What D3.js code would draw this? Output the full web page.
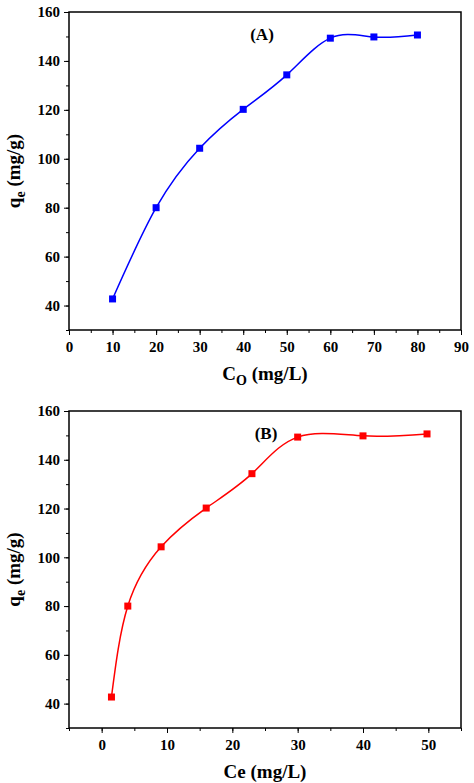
<!DOCTYPE html>
<html><head><meta charset="utf-8">
<script src="https://cdn.jsdelivr.net/npm/d3@7"></script>
<style>body{margin:0;background:#fff}svg{font-family:"Liberation Serif",serif;font-weight:bold}</style>
</head><body><div id="chart"></div>
<script>
// panel A: initial concentration vs uptake
const co = [10, 20, 30, 40, 50, 60, 70, 80];
const qeA = [42.7, 80, 104.3, 120.2, 134.3, 149.3, 149.8, 150.6];
// panel B: equilibrium concentration vs uptake
const ce = [1.5, 4, 9.1, 16, 23, 30, 40, 49.8];
const qeB = [42.7, 80, 104.3, 120.2, 134.3, 149.3, 149.8, 150.6];
const xTicksA = d3.range(0, 91, 10);
const xTicksB = d3.range(0, 51, 10);
const yTicks = d3.range(40, 161, 20);

const svg = d3.select('#chart').append('svg').attr('width', 474).attr('height', 783);

function styleTicks(a) {
    a.attr('font-family', null).attr('font-size', null);
    a.select('.domain').remove();
    a.selectAll('text').style('font-size', '15px').style('font-weight', 'bold')
        .style('font-family', '"Liberation Serif", serif').attr('fill', '#000');
}

function panel(o) {
    const x = d3.scaleLinear().domain(o.xdom).range([69, 461]);
    const y = d3.scaleLinear().domain([30, 160]).range([o.bottom, o.top]);
    const g = svg.append('g');

    g.append('rect').attr('x', 69).attr('y', o.top).attr('width', 392).attr('height', o.bottom - o.top)
        .attr('fill', 'none').attr('stroke', '#000').attr('stroke-width', 1.5);

    const xMinor = d3.range(o.xdom[0], o.xdom[1] + 0.1, 5);
    g.append('g').attr('transform', `translate(0,${o.bottom})`)
        .call(d3.axisBottom(x).tickValues(xMinor).tickSize(3).tickFormat(''))
        .call(styleTicks);
    g.append('g').attr('transform', `translate(0,${o.bottom})`)
        .call(d3.axisBottom(x).tickValues(o.xticks).tickSize(5).tickPadding(6).tickFormat(d3.format('d')))
        .call(styleTicks);

    g.append('g').attr('transform', 'translate(69,0)')
        .call(d3.axisLeft(y).tickValues(d3.range(30, 161, 10)).tickSize(3).tickFormat(''))
        .call(styleTicks);
    g.append('g').attr('transform', 'translate(69,0)')
        .call(d3.axisLeft(y).tickValues(yTicks).tickSize(5).tickPadding(4))
        .call(styleTicks);

    const pts = o.xs.map((v, i) => [x(v), y(o.ys[i])]);
    g.append('path').attr('d', d3.line().curve(d3.curveNatural)(pts))
        .attr('fill', 'none').attr('stroke', o.color).attr('stroke-width', 1.5);
    g.selectAll('.pt').data(pts).enter().append('rect')
        .attr('x', d => d[0] - 3.5).attr('y', d => d[1] - 3.5)
        .attr('width', 7).attr('height', 7).attr('fill', o.color);

    g.append('text').attr('x', o.labelX).attr('y', o.top + 28).attr('text-anchor', 'middle')
        .style('font-size', '17px').text(o.label);

    const xt = g.append('text').attr('x', 265).attr('y', o.bottom + 50).attr('text-anchor', 'middle')
        .style('font-size', '19px');
    o.xtitle(xt);

    const yt = g.append('text').attr('transform', `translate(20,${(o.top + o.bottom) / 2}) rotate(-90)`)
        .attr('text-anchor', 'middle').style('font-size', '19px');
    yt.append('tspan').text('q');
    yt.append('tspan').attr('dy', 5).style('font-size', '14px').text('e');
    yt.append('tspan').attr('dy', -5).text(' (mg/g)');
}

panel({
    xs: co, ys: qeA, xdom: [0, 90], xticks: xTicksA, top: 12, bottom: 330, color: '#0000ff',
    label: '(A)', labelX: 262,
    xtitle: t => { t.append('tspan').text('C'); t.append('tspan').attr('dy', 5).style('font-size', '14px').text('O');
        t.append('tspan').attr('dy', -5).text(' (mg/L)'); }
});
panel({
    xs: ce, ys: qeB, xdom: [-5, 55], xticks: xTicksB, top: 411, bottom: 728, color: '#ff0000',
    label: '(B)', labelX: 266,
    xtitle: t => t.text('Ce (mg/L)')
});
</script></body></html>
